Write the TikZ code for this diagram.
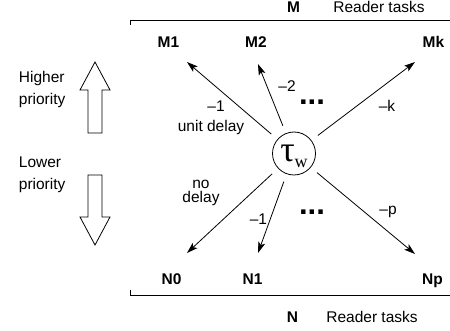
\documentclass[tikz,border=0pt]{standalone}
\usepackage{fontspec}
\setmainfont{Liberation Sans}
\newfontfamily\greekfont{Liberation Serif}
\usetikzlibrary{arrows.meta}

\begin{document}
\begin{tikzpicture}[x=1pt, y=-1pt, line width=.8pt,
	font=\fontsize{15.5}{17}\selectfont,
	task/.style={anchor=base, inner sep=0pt, font=\fontsize{15.5}{17}\selectfont\bfseries},
	lbl/.style={anchor=base, inner sep=0pt, align=center},
	dots/.style={anchor=base, inner sep=0pt, font=\fontsize{31}{31}\selectfont\bfseries},
	flow/.style={shorten <=8pt, -{Stealth[length=11pt,width=7pt,inset=2.5pt]}}]
	\useasboundingbox (0,0) rectangle (450,331);
	\draw (130,25) -- (130,20) -- (450,20);
	\draw (130,290) -- (130,295) -- (450,295);
	\node[task] (M) at (293.5,13) {M};
	\node[lbl] (Mtxt) at (379,13) {Reader tasks};
	\node[task] (N) at (292.5,323) {N};
	\node[lbl] (Ntxt) at (372,323) {Reader tasks};
	\node[task] (M1) at (168.5,48) {M1};
	\node[task] (M2) at (256,48) {M2};
	\node[task] (Mk) at (433.5,48) {Mk};
	\node[task] (N0) at (171.5,285) {N0};
	\node[task] (N1) at (252.5,285) {N1};
	\node[task] (Np) at (432.5,284) {Np};
	\node[draw, circle, minimum size=43pt, inner sep=0pt, text height=17pt, text depth=0pt] (tau) at (294,153.5)
		{\greekfont\fontsize{36}{36}\selectfont τ\raisebox{-6pt}{\fontsize{18}{18}\selectfont w}};
	\coordinate (m1) at (187,62);
	\coordinate (m2) at (258,64);
	\coordinate (mk) at (415,62);
	\coordinate (n0) at (187,253);
	\coordinate (n1) at (258,253);
	\coordinate (np) at (415,254);
	\draw[flow] (tau) -- (m1);
	\draw[flow] (tau) -- (m2);
	\draw[flow] (tau) -- (mk);
	\draw[flow] (tau) -- (n0);
	\draw[flow] (tau) -- (n1);
	\draw[flow] (tau) -- (np);
	\node[lbl] (w1) at (216,112) {–1};
	\node[lbl] (unit) at (211,131.5) {unit delay};
	\node[lbl] (w2) at (287,92) {–2};
	\node[lbl] (wk) at (387,111.5) {–k};
	\node[dots] (mdots) at (312,105) {...};
	\node[lbl, font=\fontsize{15.5}{14.5}\selectfont] (nodelay) at (201,203) {no\\delay};
	\node[lbl] (v1) at (258.5,225) {–1};
	\node[lbl] (vp) at (388,215) {–p};
	\node[dots] (ndots) at (312,215) {...};
	\node[anchor=base west, inner sep=0pt, align=left, font=\fontsize{15.5}{22}\selectfont] (hi) at (18.5,105) {Higher\\priority};
	\node[anchor=base west, inner sep=0pt, align=left, font=\fontsize{15.5}{22}\selectfont] (lo) at (18.5,190) {Lower\\priority};
	\draw (88,133) -- (88,90) -- (80,90) -- (95,62) -- (110,90) -- (102,90) -- (102,133) -- cycle;
	\draw (88,175) -- (88,217) -- (80,217) -- (95,245) -- (110,217) -- (102,217) -- (102,175) -- cycle;
\end{tikzpicture}
\end{document}
